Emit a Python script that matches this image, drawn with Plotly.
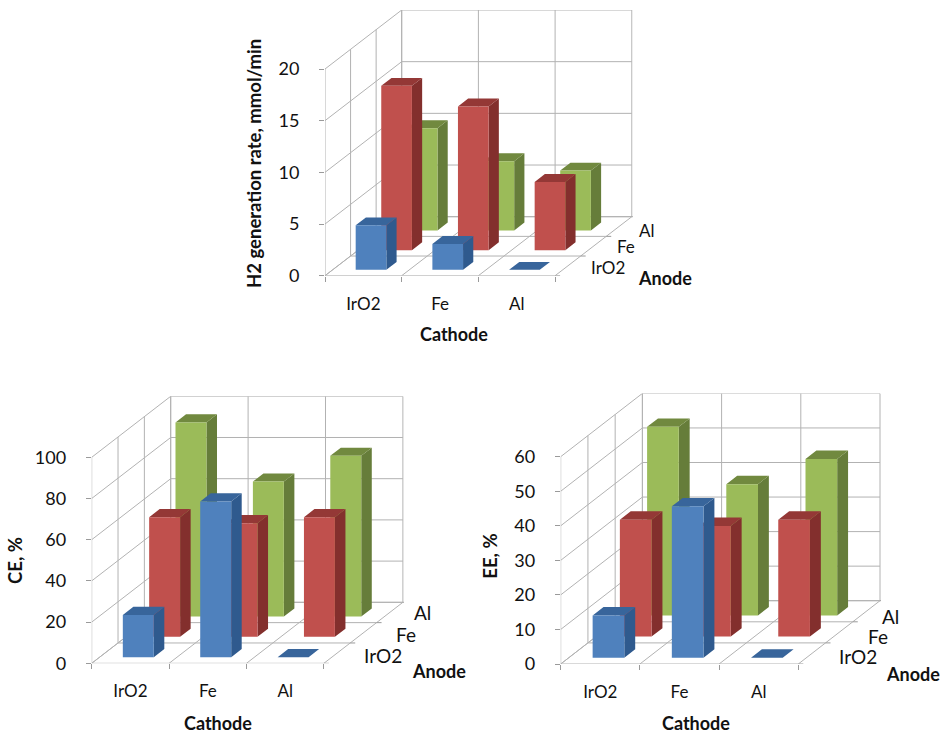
import plotly.graph_objects as go

W, H = 950, 737

# ---- data ----
cathodes = ["IrO2", "Fe", "Al"]
anodes = ["IrO2", "Fe", "Al"]

h2_anode_iro2 = [4.3, 2.5, 0]
h2_anode_fe = [15.9, 13.9, 6.6]
h2_anode_al = [9.9, 6.7, 5.8]
h2_ticks = [0, 5, 10, 15, 20]

ce_anode_iro2 = [20.5, 75.6, 0]
ce_anode_fe = [58.1, 55.2, 58.1]
ce_anode_al = [94.2, 65.5, 78.0]
ce_ticks = [0, 20, 40, 60, 80, 100]

ee_anode_iro2 = [12.2, 43.8, 0]
ee_anode_fe = [33.8, 32.0, 33.8]
ee_anode_al = [54.6, 38.0, 45.3]
ee_ticks = [0, 10, 20, 30, 40, 50, 60]

# ---- styling ----
FONT = "Lato"
GRID = "#b2b2b2"
TICK_COLOR = "#9a9a9a"
TEXT = "#111111"
FACES = [  # front, side, top per anode row
    ("#4F81BD", "#2F5A8E", "#38659B"),
    ("#C0504D", "#832F2D", "#943836"),
    ("#9BBB59", "#667D3A", "#71893F"),
]
BAR_LO, BAR_HI = 0.3, 0.7


def px(x, y):
    return x / W, 1 - y / H


CHARTS = [
    dict(series=[h2_anode_iro2, h2_anode_fe, h2_anode_al], ticks=h2_ticks,
         origin=(325.0, 275.7), cat=76.7, depth=(76.7, -59.0), top_px=69.0,
         title="H2 generation rate, mmol/min", title_xy=(254, 164), title_size=18.5,
         cathode_xy=(454, 334), anode_xy=(665, 278),
         depth_xy=[(608.3, 267), (625.7, 246), (646.7, 230)], depth_size=17, tick_size=17),
    dict(series=[ce_anode_iro2, ce_anode_fe, ce_anode_al], ticks=ce_ticks,
         origin=(91.7, 663.3), cat=77.4, depth=(79.0, -61.0), top_px=457.3,
         title="CE, %", title_xy=(15, 561), title_size=18.5,
         cathode_xy=(218.3, 723.3), anode_xy=(439.3, 671),
         depth_xy=[(382.7, 655.7), (405.7, 634), (422.7, 612.3)], depth_size=19, tick_size=17),
    dict(series=[ee_anode_iro2, ee_anode_fe, ee_anode_al], ticks=ee_ticks,
         origin=(560.7, 664.0), cat=79.2, depth=(81.7, -63.3), top_px=456.7,
         title="EE, %", title_xy=(490, 556.7), title_size=18.5,
         cathode_xy=(695.7, 723.3), anode_xy=(913.3, 674.3),
         depth_xy=[(857.7, 656.5), (878.3, 636.0), (890.7, 616.5)], depth_size=19, tick_size=17),
]
VALUE_TICK_SIZE = 18

fig = go.Figure()
annotations = []


def add_poly_trace(xs, ys, color, xa, ya):
    fig.add_trace(go.Scatter(x=xs, y=ys, mode="lines", fill="toself", fillcolor=color,
                             line=dict(width=0, color=color), hoverinfo="skip",
                             showlegend=False, xaxis=xa, yaxis=ya))


for idx, c in enumerate(CHARTS, start=1):
    xa, ya = f"x{idx}", f"y{idx}"
    ox, oy = c["origin"]
    ticks = c["ticks"]
    zmax = ticks[-1]
    unit = (oy - c["top_px"]) / zmax          # px per value unit
    n = len(cathodes)
    m = len(anodes)
    # one depth row expressed in axis units
    sx = c["depth"][0] / m / c["cat"]
    sy = -c["depth"][1] / m / unit

    def P(x, d, z):
        return x + d * sx, z + d * sy

    # walls and floor grid
    gx, gy = [], []

    def seg(a, b):
        gx.extend([a[0], b[0], None])
        gy.extend([a[1], b[1], None])

    for t in ticks:
        seg(P(0, 0, t), P(0, m, t))
        seg(P(0, m, t), P(n, m, t))
    for d in range(m + 1):
        seg(P(0, d, 0), P(0, d, zmax))
        seg(P(0, d, 0), P(n, d, 0))
    for i in range(n + 1):
        seg(P(i, 0, 0), P(i, m, 0))
        seg(P(i, m, 0), P(i, m, zmax))
    fig.add_trace(go.Scatter(x=gx, y=gy, mode="lines", line=dict(color=GRID, width=1),
                             hoverinfo="skip", showlegend=False, cliponaxis=False,
                             xaxis=xa, yaxis=ya))
    # depth axis tick marks
    kx, ky = [], []
    for d in range(m + 1):
        a = P(n, d, 0)
        kx.extend([a[0], a[0] + 5 / c["cat"], None])
        ky.extend([a[1], a[1], None])
    fig.add_trace(go.Scatter(x=kx, y=ky, mode="lines", line=dict(color=TICK_COLOR, width=1),
                             hoverinfo="skip", showlegend=False, cliponaxis=False,
                             xaxis=xa, yaxis=ya))

    # bars, back row first
    for row in reversed(range(m)):
        values = c["series"][row]
        front, side, top = [], [], []
        for i, v in enumerate(values):
            x0, x1 = i + BAR_LO, i + BAR_HI
            d0, d1 = row + BAR_LO, row + BAR_HI
            for face, pts in (
                (front, [P(x0, d0, 0), P(x1, d0, 0), P(x1, d0, v), P(x0, d0, v)]),
                (side, [P(x1, d0, 0), P(x1, d1, 0), P(x1, d1, v), P(x1, d0, v)]),
                (top, [P(x0, d0, v), P(x1, d0, v), P(x1, d1, v), P(x0, d1, v)]),
            ):
                face.append(pts)
        for faces, color in zip((side, top, front), (FACES[row][1], FACES[row][2], FACES[row][0])):
            xs, ys = [], []
            for pts in faces:
                for p in pts + [pts[0]]:
                    xs.append(p[0])
                    ys.append(p[1])
                xs.append(None)
                ys.append(None)
            add_poly_trace(xs[:-1], ys[:-1], color, xa, ya)

    # axes: domains match the pixel box of the whole 3-D frame
    right = ox + c["cat"] * n + c["depth"][0] + 1
    top_y = oy - (oy - c["top_px"]) + c["depth"][1]
    xrange_max = (right - ox) / c["cat"]
    yrange_max = (oy - top_y) / unit
    suffix = "" if idx == 1 else str(idx)
    fig.update_layout({
        f"xaxis{suffix}": dict(
            domain=[ox / W, right / W], range=[0, xrange_max], anchor=f"y{suffix}",
            tickmode="array", tickvals=[i + 0.5 for i in range(n)], ticktext=cathodes,
            ticks="", showgrid=False, zeroline=False, showline=False,
            ticklabelstandoff=16, tickfont=dict(family=FONT, size=c["tick_size"], color=TEXT),
            minor=dict(tickmode="array", tickvals=list(range(n + 1)), ticks="outside",
                       ticklen=5, tickcolor=TICK_COLOR, tickwidth=1, showgrid=False),
        ),
        f"yaxis{suffix}": dict(
            domain=[1 - oy / H, 1 - top_y / H], range=[0, yrange_max], anchor=f"x{suffix}",
            tickmode="array", tickvals=ticks, ticks="outside", ticklen=5,
            tickcolor=TICK_COLOR, tickwidth=1, showgrid=False, zeroline=False, showline=False,
            ticklabelstandoff=16, tickfont=dict(family=FONT, size=VALUE_TICK_SIZE, color=TEXT),
        ),
    })

    # texts
    def note(text, xy, size, bold=False, angle=0):
        x, y = px(*xy)
        annotations.append(dict(
            text=f"<b>{text}</b>" if bold else text, x=x, y=y, xref="paper", yref="paper",
            xanchor="center", yanchor="middle", showarrow=False, textangle=angle,
            font=dict(family=FONT, size=size, color=TEXT)))

    note(c["title"], c["title_xy"], c["title_size"], bold=True, angle=-90)
    note("Cathode", c["cathode_xy"], 18, bold=True)
    note("Anode", c["anode_xy"], 18, bold=True)
    for label, xy in zip(anodes, c["depth_xy"]):
        note(label, xy, c["depth_size"])

fig.update_layout(width=W, height=H, margin=dict(l=0, r=0, t=0, b=0, autoexpand=False),
                  paper_bgcolor="white", plot_bgcolor="white",
                  showlegend=False, annotations=annotations)
fig.write_html("out.html", config=dict(displayModeBar=False),
               post_script="document.body.style.margin='0';document.documentElement.style.overflow='hidden';")
